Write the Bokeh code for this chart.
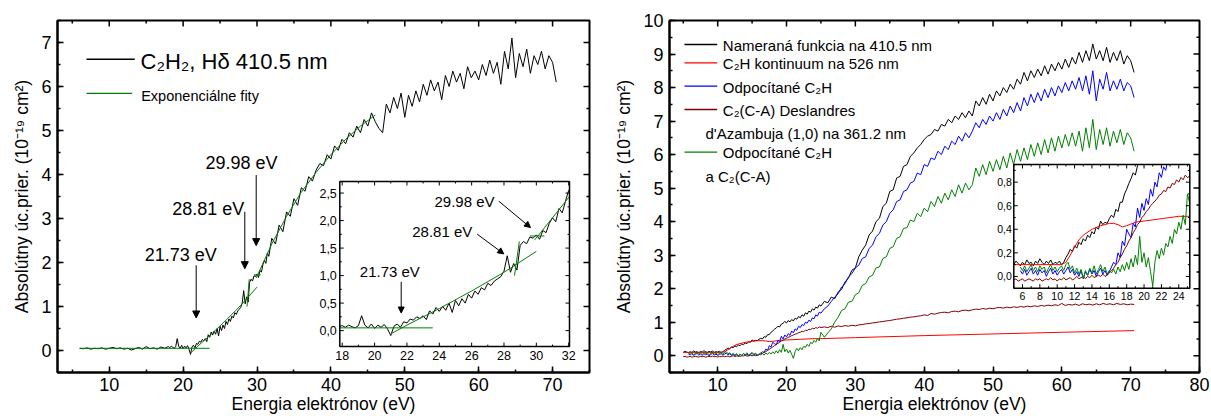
import numpy as np
from bokeh.plotting import figure
from bokeh.layouts import row
from bokeh.models import Range1d, SingleIntervalTicker, Arrow, NormalHead
from bokeh.core.properties import value
from bokeh.embed import file_html
from bokeh.resources import INLINE

FONT = "Liberation Sans"

# ---------------- LEFT PANEL DATA : C2H2, H-delta 410.5 nm ----------------
C2H2_LOW_START, C2H2_LOW_STEP = 6.0, 0.5
C2H2_LOW = [0.05, 0.04, 0.06, 0.03, 0.05, 0.04, 0.06, 0.03, 0.05, 0.07, 0.04, 0.06,
            0.03, 0.05, 0.01, 0.04, 0.07, 0.03, 0.09, 0.04, 0.06, 0.03, 0.08, 0.05]
C2H2_MID_START, C2H2_MID_STEP = 18.0, 0.2
C2H2_MID = [0.09, 0.06, 0.10, 0.07, 0.05, 0.09, 0.27, 0.10, 0.05, 0.12,
            0.04, 0.10, 0.06, 0.11, 0.03, -0.09, 0.08, 0.12, 0.06, 0.16,
            0.14, 0.21, 0.19, 0.25, 0.22, 0.27, 0.20, 0.36, 0.30, 0.42,
            0.35, 0.44, 0.37, 0.50, 0.33, 0.55, 0.45, 0.58, 0.50, 0.66,
            0.59, 0.72, 0.66, 0.78, 0.74, 0.86, 0.82, 0.90, 0.94, 0.98,
            1.08, 1.36, 1.06, 1.22, 1.10, 1.55, 1.62, 1.58, 1.70, 1.68,
            1.74, 1.66, 1.82, 1.78, 1.95, 2.05, 1.98, 2.22, 2.14, 2.35]
C2H2_HIGH_START, C2H2_HIGH_STEP = 32.0, 0.5
C2H2_HIGH = [2.55, 2.42, 2.85, 2.70, 3.15, 3.05, 3.45, 3.30, 3.70, 3.62,
             3.95, 3.85, 4.10, 4.25, 4.20, 4.45, 4.35, 4.65, 4.55, 4.80,
             4.70, 4.95, 4.85, 5.10, 4.95, 5.25, 5.10, 5.40, 5.20, 5.05,
             4.95, 5.60, 5.40, 5.75, 5.50, 5.85, 5.30, 5.80, 5.55, 5.90,
             5.65, 6.05, 5.80, 6.15, 5.90, 6.10, 5.70, 6.25, 6.00, 6.35,
             6.10, 6.30, 5.95, 6.45, 6.20, 6.35, 6.15, 6.50, 6.25, 6.60,
             6.30, 6.55, 6.05, 6.80, 6.40, 7.10, 6.20, 6.75, 6.45, 6.85,
             6.30, 6.70, 6.50, 6.80, 6.40, 6.70, 6.55, 6.10]

# exponential fits (green)
FIT1_X = [6.0, 23.6];  FIT1_Y = [0.05, 0.05]
FIT2_X = [21.0, 22.0, 24.0, 26.0, 28.0, 30.0];  FIT2_Y = [-0.06, 0.10, 0.40, 0.72, 1.06, 1.44]
FIT3_X = [28.65, 28.95];  FIT3_Y = [1.00, 1.62]
FIT4_X = [29.6, 30.5];  FIT4_Y = [1.72, 1.72]
FIT5_X = [29.9, 31.0, 32.0, 34.0, 36.0, 38.0, 40.0, 42.0, 44.0, 46.0]
FIT5_Y = [1.65, 2.05, 2.42, 3.05, 3.60, 4.05, 4.45, 4.80, 5.10, 5.35]

LEFT_TOP_MAJOR = [10, 20, 30, 40, 50, 60, 70]
LEFT_TOP_MINOR = [5, 15, 25, 35, 45, 55, 65]
LEFT_RIGHT_MAJOR = [0, 1, 2, 3, 4, 5, 6, 7]
LEFT_RIGHT_MINOR = [0.5, 1.5, 2.5, 3.5, 4.5, 5.5, 6.5]

LEFT_INSET_XTICKS = [18, 20, 22, 24, 26, 28, 30, 32]
LEFT_INSET_XLABELS = ["18", "20", "22", "24", "26", "28", "30", "32"]
LEFT_INSET_XMINOR = [19, 21, 23, 25, 27, 29, 31]
LEFT_INSET_YTICKS = [0.0, 0.5, 1.0, 1.5, 2.0, 2.5]
LEFT_INSET_YLABELS = ["0,0", "0,5", "1,0", "1,5", "2,0", "2,5"]
LEFT_INSET_YMINOR = [0.25, 0.75, 1.25, 1.75, 2.25]

# ---------------- RIGHT PANEL DATA ----------------
FINE_STEP, COARSE_START, COARSE_STEP = 0.25, 25.5, 0.5
MEAS_FINE_START = 5.0
MEAS_FINE = [0.10, 0.13, 0.11, 0.09, 0.12, 0.10, 0.14, 0.11, 0.12, 0.09,
             0.13, 0.11, 0.15, 0.12, 0.10, 0.13, 0.11, 0.14, 0.10, 0.12,
             0.11, 0.13, 0.10, 0.12, 0.16, 0.19, 0.23, 0.21, 0.26, 0.24,
             0.29, 0.27, 0.32, 0.30, 0.35, 0.33, 0.38, 0.36, 0.42, 0.40,
             0.47, 0.44, 0.46, 0.45, 0.49, 0.52, 0.50, 0.57, 0.55, 0.63,
             0.63, 0.70, 0.74, 0.79, 0.83, 0.88, 0.86, 0.94, 0.97, 1.02,
             0.98, 1.05, 1.01, 1.08, 1.04, 1.12, 1.09, 1.17, 1.13, 1.22,
             1.18, 1.28, 1.24, 1.33, 1.30, 1.40, 1.36, 1.45, 1.42, 1.52,
             1.48]
MEAS_COARSE = [1.62, 1.58, 1.75, 1.70, 1.90, 1.98, 2.20, 2.32, 2.55, 2.62,
               2.95, 3.15, 3.30, 3.60, 3.72, 4.00, 4.10, 4.45, 4.55, 4.90,
               4.95, 5.30, 5.35, 5.65, 5.70, 5.95, 6.05, 6.20, 6.30, 6.45,
               6.55, 6.60, 6.75, 6.70, 6.90, 6.85, 7.05, 6.95, 7.15, 7.05,
               7.25, 7.10, 7.30, 7.15, 7.60, 7.45, 7.70, 7.50, 7.80, 7.60,
               7.90, 7.75, 8.00, 7.85, 8.10, 7.95, 8.25, 8.10, 8.45, 8.20,
               8.50, 8.30, 8.55, 8.35, 8.65, 8.40, 8.70, 8.50, 8.75, 8.55,
               8.85, 8.60, 8.90, 8.70, 9.05, 8.75, 9.10, 8.80, 9.30, 8.85,
               9.10, 8.80, 9.20, 8.75, 9.05, 8.80, 9.10, 8.70, 8.95, 8.80,
               8.45]

C2H_X = [5.0, 10.5, 11.0, 11.5, 12.0, 12.5, 13.0, 14.0, 15.0, 16.0, 16.5, 17.0,
         17.5, 18.0, 19.0, 20.0, 22.0, 24.0, 25.0, 30.0, 40.0, 50.0, 60.0, 70.5]
C2H_Y = [0.10, 0.10, 0.12, 0.18, 0.25, 0.31, 0.35, 0.40, 0.43, 0.45, 0.45, 0.44,
         0.42, 0.43, 0.46, 0.47, 0.49, 0.51, 0.51, 0.54, 0.60, 0.65, 0.70, 0.75]

SUB_FINE_START = 5.75
SUB_FINE = [0.05, 0.02, 0.06, 0.01, 0.04, 0.07, 0.02, 0.05, 0.01, 0.06,
            0.03, 0.05, 0.00, 0.04, 0.07, 0.02, 0.05, 0.01, 0.04, 0.06,
            0.02, 0.05, 0.08, 0.03, 0.06, 0.01, 0.04, 0.00, 0.05, -0.02,
            0.04, 0.01, 0.06, 0.02, 0.05, 0.00, 0.04, 0.07, 0.02, 0.05,
            0.01, 0.04, 0.08, 0.12, 0.10, 0.20, 0.16, 0.30, 0.26, 0.40,
            0.36, 0.33, 0.45, 0.42, 0.58, 0.50, 0.62, 0.56, 0.66, 0.61,
            0.74, 0.68, 0.80, 0.76, 0.88, 0.84, 0.93, 0.90, 1.00, 0.97,
            1.06, 1.02, 1.13, 1.10, 1.22, 1.18, 1.30, 1.27]
SUB_COARSE = [1.40, 1.48, 1.62, 1.75, 1.85, 2.05, 2.15, 2.35, 2.45, 2.62,
              2.70, 2.90, 2.95, 3.20, 3.30, 3.55, 3.65, 3.90, 4.00, 4.25,
              4.35, 4.60, 4.65, 4.90, 4.95, 5.15, 5.20, 5.45, 5.40, 5.70,
              5.65, 5.90, 5.85, 6.10, 6.00, 6.25, 6.15, 6.40, 6.30, 6.55,
              6.40, 6.65, 6.50, 6.70, 6.95, 6.80, 7.05, 6.90, 7.15, 7.00,
              7.25, 7.05, 7.35, 7.15, 7.45, 7.25, 7.55, 7.30, 7.70, 7.45,
              7.80, 7.55, 7.85, 7.60, 7.95, 7.70, 8.00, 7.75, 8.05, 7.85,
              8.15, 7.90, 8.20, 7.95, 8.30, 7.90, 8.35, 7.80, 8.50, 7.60,
              8.25, 7.95, 8.45, 7.90, 8.20, 7.95, 8.25, 7.90, 8.15, 8.05,
              7.70]

C2CA_FINE_START = 5.0
C2CA_FINE = [-0.03, -0.02, -0.04, -0.03, -0.02, -0.04, -0.03, -0.02, -0.03, -0.04,
             -0.02, -0.03, -0.02, -0.04, -0.03, -0.02, -0.03, -0.01, -0.03, -0.02,
             -0.04, -0.02, -0.03, -0.01, -0.03, -0.02, -0.01, -0.03, -0.02, 0.00,
             -0.02, -0.01, 0.00, -0.02, 0.00, -0.01, 0.01, -0.01, 0.00, 0.01,
             0.00, 0.02, 0.00, 0.01, 0.03, 0.05, 0.07, 0.10, 0.12, 0.16,
             0.19, 0.23, 0.26, 0.30, 0.33, 0.37, 0.40, 0.44, 0.46, 0.50,
             0.52, 0.55, 0.57, 0.60, 0.62, 0.64, 0.66, 0.69, 0.70, 0.73,
             0.72, 0.76, 0.75, 0.79, 0.78, 0.82, 0.80, 0.84, 0.82, 0.86,
             0.84]
C2CA_COARSE = [0.86, 0.84, 0.88, 0.85, 0.89, 0.87, 0.90, 0.88, 0.91, 0.89,
               0.92, 0.93, 0.95, 0.96, 0.98, 0.99, 1.01, 1.02, 1.04, 1.05,
               1.07, 1.09, 1.10, 1.12, 1.13, 1.15, 1.16, 1.18, 1.19, 1.22,
               1.20, 1.26, 1.24, 1.27, 1.29, 1.30, 1.28, 1.32, 1.33, 1.31,
               1.35, 1.36, 1.34, 1.37, 1.39, 1.38, 1.41, 1.39, 1.42, 1.40,
               1.43, 1.44, 1.42, 1.45, 1.43, 1.46, 1.44, 1.47, 1.45, 1.48,
               1.46, 1.49, 1.47, 1.50, 1.48, 1.51, 1.49, 1.52, 1.50, 1.56,
               1.50, 1.53, 1.51, 1.54, 1.50, 1.55, 1.52, 1.54, 1.51, 1.55,
               1.52, 1.56, 1.53, 1.55, 1.52, 1.56, 1.53, 1.55, 1.52, 1.54,
               1.53]

SUB2_FINE_START = 5.75
SUB2_FINE = [0.08, 0.05, 0.09, 0.04, 0.07, 0.10, 0.05, 0.08, 0.04, 0.09,
             0.06, 0.08, 0.03, 0.07, 0.10, 0.05, 0.08, 0.04, 0.07, 0.09,
             0.05, 0.10, 0.12, 0.06, 0.09, 0.03, 0.07, 0.02, 0.06, -0.02,
             0.05, 0.01, 0.07, 0.03, 0.09, 0.02, 0.06, 0.10, 0.04, 0.08,
             0.02, 0.05, 0.03, 0.06, 0.02, 0.08, 0.04, 0.10, 0.05, 0.12,
             0.06, 0.15, 0.08, 0.18, 0.10, 0.34, 0.12, 0.20, 0.08, 0.16,
             0.04, -0.08, 0.12, 0.22, 0.15, 0.24, 0.18, 0.28, 0.25, 0.34,
             0.28, 0.40, 0.36, 0.46, 0.40, 0.52, 0.44, 0.70]
SUB2_COARSE = [0.55, 0.68, 0.80, 1.00, 1.15, 1.35, 1.40, 1.60, 1.62, 1.82,
               1.88, 2.10, 2.15, 2.35, 2.40, 2.62, 2.65, 2.90, 2.95, 3.20,
               3.25, 3.50, 3.55, 3.80, 3.82, 4.05, 4.00, 4.25, 4.15, 4.40,
               4.30, 4.60, 4.45, 4.75, 4.55, 4.85, 4.65, 4.95, 4.75, 5.10,
               4.85, 5.15, 4.95, 5.10, 5.60, 5.35, 5.70, 5.40, 5.80, 5.50,
               5.85, 5.55, 5.95, 5.60, 6.05, 5.70, 6.15, 5.80, 6.20, 5.85,
               6.30, 5.95, 6.35, 6.00, 6.45, 6.05, 6.50, 6.10, 6.55, 6.20,
               6.60, 6.25, 6.65, 6.25, 6.70, 6.10, 6.80, 6.20, 7.05, 6.15,
               6.75, 6.30, 6.80, 6.25, 6.70, 6.35, 6.75, 6.30, 6.65, 6.50,
               6.10]

RIGHT_TOP_MAJOR = [10, 20, 30, 40, 50, 60, 70]
RIGHT_TOP_MINOR = [5, 15, 25, 35, 45, 55, 65, 75]
RIGHT_RIGHT_MAJOR = [0, 1, 2, 3, 4, 5, 6, 7, 8, 9]
RIGHT_RIGHT_MINOR = [0.5, 1.5, 2.5, 3.5, 4.5, 5.5, 6.5, 7.5, 8.5, 9.5]

RIGHT_INSET_XTICKS = [6, 8, 10, 12, 14, 16, 18, 20, 22, 24]
RIGHT_INSET_XLABELS = ["6", "8", "10", "12", "14", "16", "18", "20", "22", "24"]
RIGHT_INSET_XMINOR = [5, 7, 9, 11, 13, 15, 17, 19, 21, 23, 25]
RIGHT_INSET_YTICKS = [0.0, 0.2, 0.4, 0.6, 0.8]
RIGHT_INSET_YLABELS = ["0,0", "0,2", "0,4", "0,6", "0,8"]
RIGHT_INSET_YMINOR = [0.1, 0.3, 0.5, 0.7, 0.9]

LEGEND_RIGHT = ["Nameraná funkcia na 410.5 nm", "C\u2082H kontinuum na 526 nm",
                "Odpocítané C\u2082H", "C\u2082(C-A) Deslandres",
                "d'Azambuja (1,0) na 361.2 nm", "Odpocítané C\u2082H", "a C\u2082(C-A)"]

BLACK, RED, BLUE, DRED, GREEN = "#000000", "#ff0000", "#0000ff", "#800000", "#008000"


# ---------------- helpers ----------------
def grid(start, step, vals):
    return list(start + step * np.arange(len(vals)))


def join(*parts):
    xs, ys = [], []
    for start, step, vals in parts:
        xs += grid(start, step, vals)
        ys += list(vals)
    return xs, ys


def clip_polyline(xs, ys, x0, x1, y0, y1):
    segs_x, segs_y, cx, cy = [], [], [], []
    for i in range(len(xs) - 1):
        ax, ay, bx, by = xs[i], ys[i], xs[i + 1], ys[i + 1]
        dx, dy = bx - ax, by - ay
        t0, t1, ok = 0.0, 1.0, True
        for pp, q in ((-dx, ax - x0), (dx, x1 - ax), (-dy, ay - y0), (dy, y1 - ay)):
            if pp == 0:
                if q < 0:
                    ok = False
                    break
            else:
                r = q / pp
                if pp < 0:
                    if r > t1:
                        ok = False
                        break
                    t0 = max(t0, r)
                else:
                    if r < t0:
                        ok = False
                        break
                    t1 = min(t1, r)
        if not ok:
            if cx:
                segs_x.append(cx); segs_y.append(cy); cx, cy = [], []
            continue
        sx, sy = ax + t0 * dx, ay + t0 * dy
        ex, ey = ax + t1 * dx, ay + t1 * dy
        if not cx or t0 > 0:
            if cx:
                segs_x.append(cx); segs_y.append(cy)
            cx, cy = [sx], [sy]
        cx.append(ex); cy.append(ey)
        if t1 < 1:
            segs_x.append(cx); segs_y.append(cy); cx, cy = [], []
    if cx:
        segs_x.append(cx); segs_y.append(cy)
    return segs_x, segs_y


def make_conv(offset, frame, rng):
    fl, fr, ft, fb = frame
    x0, x1, y0, y1 = rng
    def conv(px, py):
        return (x0 + (px - offset - fl) * (x1 - x0) / (fr - fl),
                y0 + (fb - py) * (y1 - y0) / (fb - ft))
    return conv


def make_fig(width, rng, frame, xint, yint, top_major, top_minor, right_major, right_minor):
    fl, fr, ft, fb = frame
    x0, x1, y0, y1 = rng
    p = figure(width=width, height=418, x_range=Range1d(x0, x1), y_range=Range1d(y0, y1),
               output_backend="svg", toolbar_location=None,
               min_border_left=fl, min_border_right=width - fr,
               min_border_top=ft, min_border_bottom=418 - fb,
               background_fill_color="white", border_fill_color="white")
    p.grid.visible = False
    p.outline_line_color = "black"
    p.outline_line_width = 2
    bottom, left = p.below[0], p.left[0]
    bottom.ticker = SingleIntervalTicker(interval=xint, num_minor_ticks=2)
    left.ticker = SingleIntervalTicker(interval=yint, num_minor_ticks=2)
    for ax in (bottom, left):
        ax.axis_line_width = 2
        ax.axis_line_color = "black"
        ax.major_tick_line_width = 1.5
        ax.minor_tick_line_width = 1.5
        ax.major_tick_in = 6
        ax.major_tick_out = 0
        ax.minor_tick_in = 3
        ax.minor_tick_out = 0
        ax.major_label_text_font = FONT
        ax.major_label_text_font_size = "18px"
        ax.major_label_text_color = "black"
        ax.axis_label_text_font = FONT
        ax.axis_label_text_font_size = "17.5px"
        ax.axis_label_text_font_style = "normal"
        ax.axis_label_text_color = "black"
    bottom.major_label_standoff = 5
    left.major_label_standoff = 6
    bottom.axis_label = "Energia elektrónov (eV)"
    bottom.axis_label_standoff = 0
    left.axis_label = "Absolútny úc.prier. (10\u207b\u00b9\u2079 cm\u00b2)"
    left.axis_label_standoff = 6
    # mirrored inward ticks on top and right edges of the frame
    spx = (x1 - x0) / (fr - fl)
    spy = (y1 - y0) / (fb - ft)
    for vals, L in ((top_major, 6), (top_minor, 3)):
        n = len(vals)
        p.segment(x0=vals, y0=[y1] * n, x1=vals, y1=[y1 - L * spy] * n, line_color="black", line_width=1.5)
    for vals, L in ((right_major, 6), (right_minor, 3)):
        n = len(vals)
        p.segment(x0=[x1] * n, y0=vals, x1=[x1 - L * spx] * n, y1=vals, line_color="black", line_width=1.5)
    return p


def put_text(p, conv, px, py_base, s, size):
    # place by the vertical middle of the text (baseline - 0.33 em)
    x, y = conv(px, py_base - 0.33 * size)
    p.text(x=[x], y=[y], text=[s], text_font=value(FONT), text_font_size=f"{size}px",
           text_align="left", text_baseline="middle", text_color="black")


def put_hline(p, conv, px0, px1, py, color):
    x0, y = conv(px0, py)
    x1, _ = conv(px1, py)
    p.line([x0, x1], [y, y], line_color=color, line_width=1.3)


def put_arrow(p, conv, px0, py0, px1, py1, size):
    x0, y0 = conv(px0, py0)
    x1, y1 = conv(px1, py1)
    p.add_layout(Arrow(end=NormalHead(size=size, fill_color="black", line_color="black", line_width=1),
                       x_start=x0, y_start=y0, x_end=x1, y_end=y1,
                       line_color="black", line_width=1))


def inset_setup(p, frame, box, dr):
    fl, fr, ft, fb = frame
    bl, br, bt, bb = box
    x0, x1, y0, y1 = dr
    sx = (x1 - x0) / (br - bl)
    sy = (y1 - y0) / (bb - bt)
    p.extra_x_ranges = {"ix": Range1d(x0 - (bl - fl) * sx, x1 + (fr - br) * sx)}
    p.extra_y_ranges = {"iy": Range1d(y0 - (fb - bb) * sy, y1 + (bt - ft) * sy)}
    kw = dict(x_range_name="ix", y_range_name="iy")
    p.quad(left=[x0], right=[x1], bottom=[y0], top=[y1], fill_color="white", line_color=None, **kw)
    return kw, sx, sy


def inset_curve(p, xs, ys, dr, color, kw):
    sx_, sy_ = clip_polyline(xs, ys, *dr)
    if sx_:
        p.multi_line(xs=sx_, ys=sy_, line_color=color, line_width=1, **kw)


def inset_frame(p, dr, kw, sx, sy, xt, xl, xm, yt, yl, ym, fs, xgap, ygap):
    x0, x1, y0, y1 = dr
    def vt(vals, L):
        n = len(vals)
        p.segment(x0=vals, y0=[y0] * n, x1=vals, y1=[y0 + L * sy] * n, line_color="black", line_width=1, **kw)
        p.segment(x0=vals, y0=[y1] * n, x1=vals, y1=[y1 - L * sy] * n, line_color="black", line_width=1, **kw)
    def ht(vals, L):
        n = len(vals)
        p.segment(x0=[x0] * n, y0=vals, x1=[x0 + L * sx] * n, y1=vals, line_color="black", line_width=1, **kw)
        p.segment(x0=[x1] * n, y0=vals, x1=[x1 - L * sx] * n, y1=vals, line_color="black", line_width=1, **kw)
    vt(xt, 4); vt(xm, 2); ht(yt, 4); ht(ym, 2)
    p.quad(left=[x0], right=[x1], bottom=[y0], top=[y1], fill_color=None,
           line_color="black", line_width=1.5, **kw)
    p.text(x=xt, y=[y0 - xgap * sy] * len(xt), text=xl, text_align="center", text_baseline="middle",
           text_font=value(FONT), text_font_size=f"{fs}px", text_color="black", **kw)
    p.text(x=[x0 - ygap * sx] * len(yt), y=yt, text=yl, text_align="right", text_baseline="middle",
           text_font=value(FONT), text_font_size=f"{fs}px", text_color="black", **kw)


# ======================= LEFT FIGURE =======================
LF = (57, 589, 15, 372)
LR = (3, 75, -0.5, 7.5)
p1 = make_fig(605, LR, LF, 10, 1, LEFT_TOP_MAJOR, LEFT_TOP_MINOR, LEFT_RIGHT_MAJOR, LEFT_RIGHT_MINOR)
cl = make_conv(0, LF, LR)

lx, ly = join((C2H2_LOW_START, C2H2_LOW_STEP, C2H2_LOW),
              (C2H2_MID_START, C2H2_MID_STEP, C2H2_MID),
              (C2H2_HIGH_START, C2H2_HIGH_STEP, C2H2_HIGH))
p1.line(lx, ly, line_color=BLACK, line_width=1)
fits = [(FIT1_X, FIT1_Y), (FIT2_X, FIT2_Y), (FIT3_X, FIT3_Y), (FIT4_X, FIT4_Y), (FIT5_X, FIT5_Y)]
for fx, fy in fits:
    p1.line(fx, fy, line_color=GREEN, line_width=1)

# legend
put_hline(p1, cl, 86, 134.3, 54.3, BLACK)
put_text(p1, cl, 140, 64.3, "C\u2082H\u2082, H\u03b4 410.5 nm", 22)
put_hline(p1, cl, 86, 131.7, 89, GREEN)
put_text(p1, cl, 140.7, 96.7, "Exponenciálne fity", 14.5)

# annotations
put_text(p1, cl, 205, 165, "29.98 eV", 18)
put_text(p1, cl, 171.7, 211.7, "28.81 eV", 18)
put_text(p1, cl, 144.2, 258.3, "21.73 eV", 18)
put_arrow(p1, cl, 255.7, 171.7, 255.7, 243.3, 7)
put_arrow(p1, cl, 244.3, 209, 244.3, 266.7, 7)
put_arrow(p1, cl, 195.7, 263.3, 195.7, 316.7, 7)

# inset
LIB = (339.3, 569.0, 178.3, 345.7)
LID = (17.85, 32.05, -0.29, 2.71)
kw1, sx1, sy1 = inset_setup(p1, LF, LIB, LID)
inset_curve(p1, lx, ly, LID, BLACK, kw1)
for fx, fy in fits:
    inset_curve(p1, fx, fy, LID, GREEN, kw1)
inset_frame(p1, LID, kw1, sx1, sy1, LEFT_INSET_XTICKS, LEFT_INSET_XLABELS, LEFT_INSET_XMINOR,
            LEFT_INSET_YTICKS, LEFT_INSET_YLABELS, LEFT_INSET_YMINOR, 12.5, 9, 3)
put_text(p1, cl, 434, 203.3, "29.98 eV", 15)
put_text(p1, cl, 411.7, 234.3, "28.81 eV", 15)
put_text(p1, cl, 359.3, 275, "21.73 eV", 15)
put_arrow(p1, cl, 498.3, 198.3, 530, 225, 6)
put_arrow(p1, cl, 476.7, 231.7, 503.3, 251.7, 6)
put_arrow(p1, cl, 400.7, 280, 400.7, 311.7, 6)

# ======================= RIGHT FIGURE =======================
RF = (64, 594, 20, 372)
RR = (3, 80, -0.5, 10)
p2 = make_fig(606, RR, RF, 10, 1, RIGHT_TOP_MAJOR, RIGHT_TOP_MINOR, RIGHT_RIGHT_MAJOR, RIGHT_RIGHT_MINOR)
cr = make_conv(605, RF, RR)

mx, my = join((MEAS_FINE_START, FINE_STEP, MEAS_FINE), (COARSE_START, COARSE_STEP, MEAS_COARSE))
bx, by = join((SUB_FINE_START, FINE_STEP, SUB_FINE), (COARSE_START, COARSE_STEP, SUB_COARSE))
dx, dy = join((C2CA_FINE_START, FINE_STEP, C2CA_FINE), (COARSE_START, COARSE_STEP, C2CA_COARSE))
gx, gy = join((SUB2_FINE_START, FINE_STEP, SUB2_FINE), (COARSE_START, COARSE_STEP, SUB2_COARSE))
series = [(mx, my, BLACK), (C2H_X, C2H_Y, RED), (bx, by, BLUE), (dx, dy, DRED), (gx, gy, GREEN)]
for sx_, sy_, col in series:
    p2.line(sx_, sy_, line_color=col, line_width=1)

# legend
leg_lines = [(44, BLACK), (62.3, RED), (85.7, BLUE), (109, DRED), (151.7, GREEN)]
for yy, col in leg_lines:
    put_hline(p2, cr, 684, 716.7, yy, col)
leg_pos = [(722.3, 50), (722.3, 68.3), (722.3, 91.7), (722.3, 115), (705, 138.3), (722.3, 157.3), (705, 180.7)]
for (xx, yy), s in zip(leg_pos, LEGEND_RIGHT):
    put_text(p2, cr, xx, yy, s, 15)

# inset
RIB = (408.3, 584.3, 164.0, 287.7)
RID = (5.0, 25.27, -0.10, 0.95)
kw2, sx2, sy2 = inset_setup(p2, RF, RIB, RID)
for sx_, sy_, col in series:
    inset_curve(p2, sx_, sy_, RID, col, kw2)
inset_frame(p2, RID, kw2, sx2, sy2, RIGHT_INSET_XTICKS, RIGHT_INSET_XLABELS, RIGHT_INSET_XMINOR,
            RIGHT_INSET_YTICKS, RIGHT_INSET_YLABELS, RIGHT_INSET_YMINOR, 10.5, 8, 2)

layout = row(p1, p2)
open("out.html", "w").write(file_html(layout, INLINE, title="plot"))
